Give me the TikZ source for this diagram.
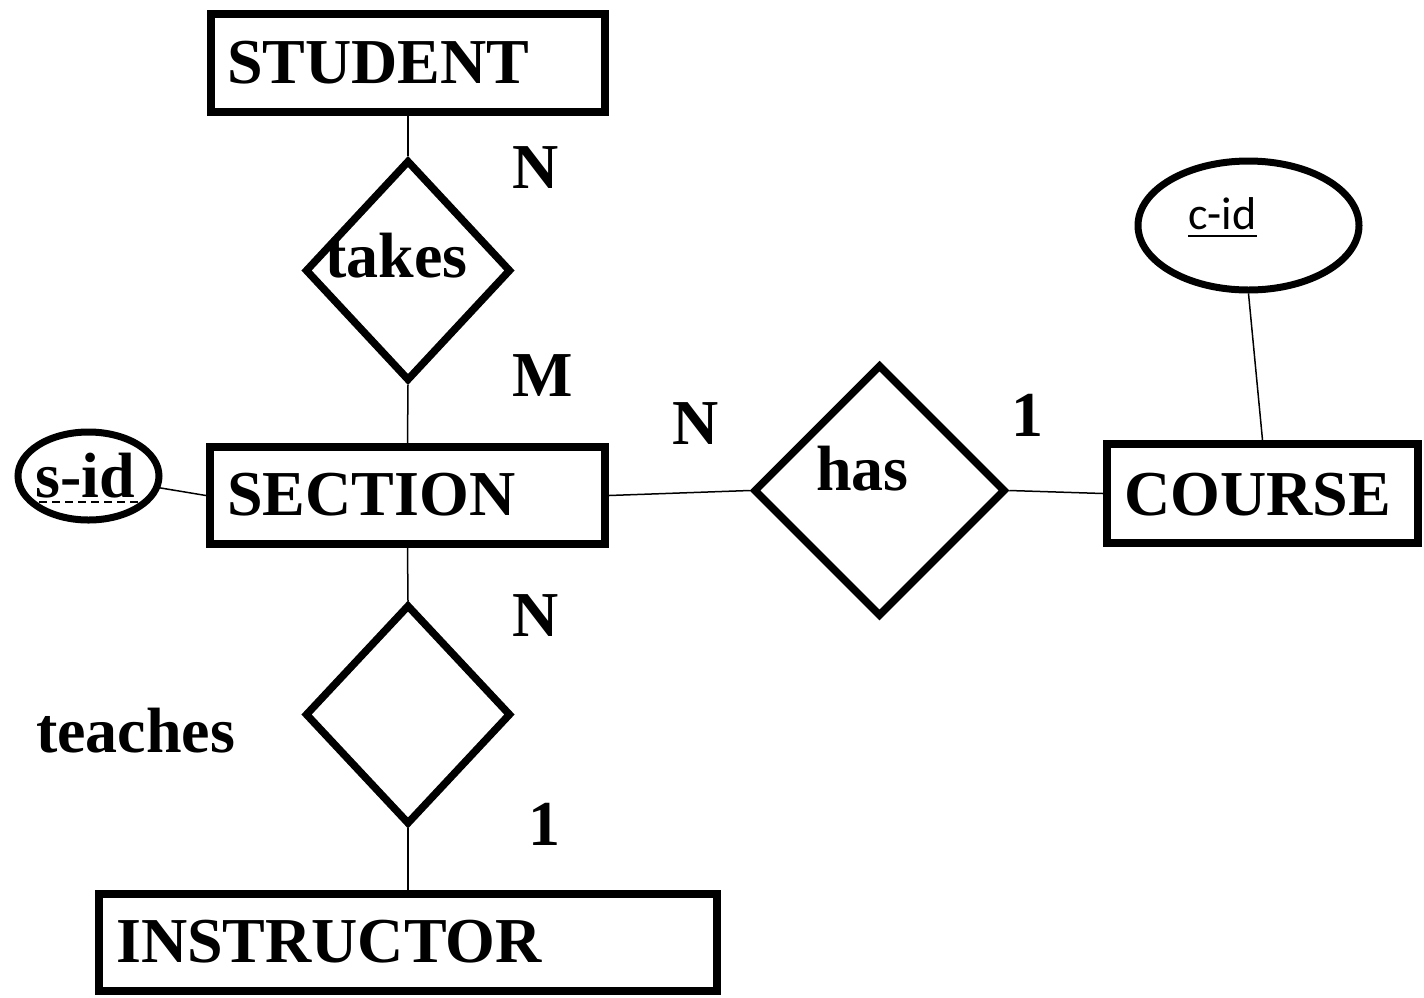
\documentclass[tikz,border=0pt]{standalone}
\usepackage{fontspec}
\setmainfont{Liberation Serif}
\newfontfamily\calfont{Carlito}
\usetikzlibrary{shapes.geometric}

\begin{document}
\begin{tikzpicture}[x=1pt,y=-1pt,
  entity/.style={draw, line width=8pt, rectangle, inner sep=0pt},
  relation/.style={draw, line width=7.5pt, diamond, inner sep=0pt, aspect=1},
  attr/.style={draw, line width=7pt, ellipse, inner sep=0pt},
  link/.style={line width=1.5pt},
  lbl/.style={font=\fontsize{64}{70}\selectfont\bfseries, inner sep=0pt, anchor=base west},
  card/.style={lbl}
]
\useasboundingbox (0,0) rectangle (1424,997);

% entity boxes
\node[entity, minimum width=394pt, minimum height=98pt] (student) at (408,63) {};
\node[entity, minimum width=395pt, minimum height=97pt] (section) at (407.5,495.5) {};
\node[entity, minimum width=311pt, minimum height=99pt] (course) at (1262.5,493.5) {};
\node[entity, minimum width=618pt, minimum height=97pt] (instructor) at (408,942.5) {};

% relationship diamonds
\node[relation, minimum width=206pt, minimum height=221pt] (takes) at (408,270.5) {};
\node[relation, minimum width=252pt, minimum height=252pt] (has) at (879.5,490.5) {};
\node[relation, minimum width=206pt, minimum height=220pt] (teaches) at (408,714.5) {};

% attribute ellipses
\node[attr, minimum width=141pt, minimum height=88pt] (sid) at (88.5,476) {};
\node[attr, minimum width=221pt, minimum height=129pt] (cid) at (1248.5,225.5) {};

% connectors
\draw[link] (student.south) -- (takes.north);
\draw[link] (takes.south) -- (section.north);
\draw[link] (section.south) -- (teaches.north);
\draw[link] (teaches.south) -- (instructor.north);
\draw[link] (section.east) -- (has.west);
\draw[link] (has.east) -- (course.west);
\draw[link] (cid.south) -- (course.north);
\draw[link] (sid) -- (section.west);

% names
\node[lbl] (studenttxt) at (227,83) {STUDENT};
\node[lbl] (sectiontxt) at (227,515) {SECTION};
\node[lbl] (coursetxt) at (1124,515) {COURSE};
\node[lbl] (instructortxt) at (116,962) {INSTRUCTOR};
\node[lbl] (takestxt) at (325,277) {takes};
\node[lbl] (hastxt) at (816,490) {has};
\node[lbl] (teachestxt) at (36,752) {teaches};

% key attributes
\node[lbl] (sidtxt) at (35,497) {s-id};
\draw[line width=1.5pt, dash pattern=on 8pt off 5pt]
  ([xshift=4pt,yshift=-5pt]sidtxt.base west) -- ([xshift=4pt,yshift=-5pt]sidtxt.base east);
\node[font=\fontsize{46}{50}\selectfont\calfont, inner sep=0pt, anchor=base west] (cidtxt) at (1188,229) {c-id};
\draw[line width=2.5pt] ([yshift=-7pt]cidtxt.base west) -- ([yshift=-7pt]cidtxt.base east);

% cardinalities
\node[card] (c1) at (512,188) {N};
\node[card] (c2) at (512,396) {M};
\node[card] (c3) at (672,444) {N};
\node[card] (c4) at (1011,436) {1};
\node[card] (c5) at (512,636) {N};
\node[card] (c6) at (528,845) {1};
\end{tikzpicture}
\end{document}
